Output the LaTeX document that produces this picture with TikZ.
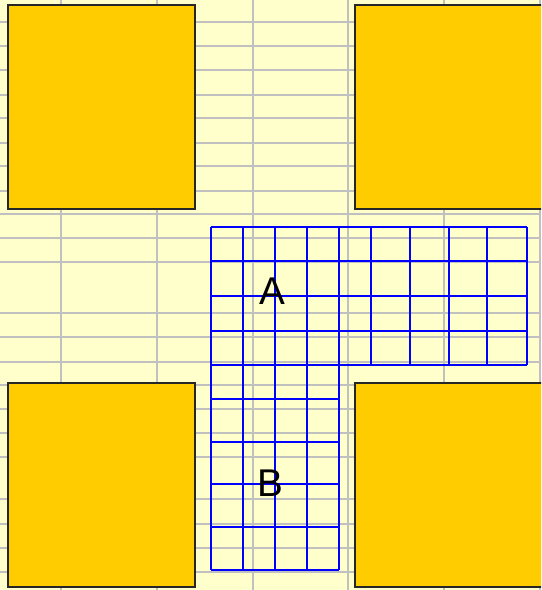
\documentclass[tikz,border=0pt]{standalone}
\usepackage{fontspec}
\setmainfont{Liberation Sans}
\usetikzlibrary{positioning}

\definecolor{paper}{HTML}{FFFFCC}
\definecolor{rule}{HTML}{C0C0C0}
\definecolor{block}{HTML}{FFCC00}

\tikzset{
  sheetline/.style={draw=rule, line width=1.3pt},
  blockbox/.style={fill=block, draw=black!85, line width=0.8pt},
  cellline/.style={draw=blue, line width=1pt},
  zonelabel/.style={font=\fontsize{22}{26}\selectfont, inner sep=0pt}
}

\begin{document}
\begin{tikzpicture}[x=0.02cm, y=-0.02cm]
			% Paper and sheet rules:
			\clip (0,0) rectangle (541,590);
			\fill[paper] (0,0) rectangle (541,590);
			\foreach \gx in {61,157,253,348,444,540}
				\draw[sheetline] (\gx,0) -- (\gx,590);
			\foreach \gy in {22,46,70,95,118,143,166,191,214,238,262,313,337,362,385,409,433,457,499,524,548,572}
				\draw[sheetline] (0,\gy) -- (541,\gy);
			% Corner blocks:
			\draw[blockbox] (8,5) rectangle (195,209);
			\draw[blockbox] (355,5) rectangle (548,209);
			\draw[blockbox] (8,383) rectangle (195,587);
			\draw[blockbox] (355,383) rectangle (548,587);
			% Cell grid of zone A:
			\foreach \cx in {371,410,449,487,527}
				\draw[cellline] (\cx,227) -- (\cx,365);
			\foreach \cy in {227,261,296,331,365}
				\draw[cellline] (211,\cy) -- (527,\cy);
			% Cell grid of zone B:
			\foreach \cx in {211,243,275,307,339}
				\draw[cellline] (\cx,227) -- (\cx,570);
			\foreach \cy in {399,442,484,527,570}
				\draw[cellline] (211,\cy) -- (339,\cy);
			% Labels:
			\node[zonelabel] (zoneA) at (272,291) {A};
			\node[zonelabel] (zoneB) at (270,483) {B};
		\end{tikzpicture}
\end{document}
